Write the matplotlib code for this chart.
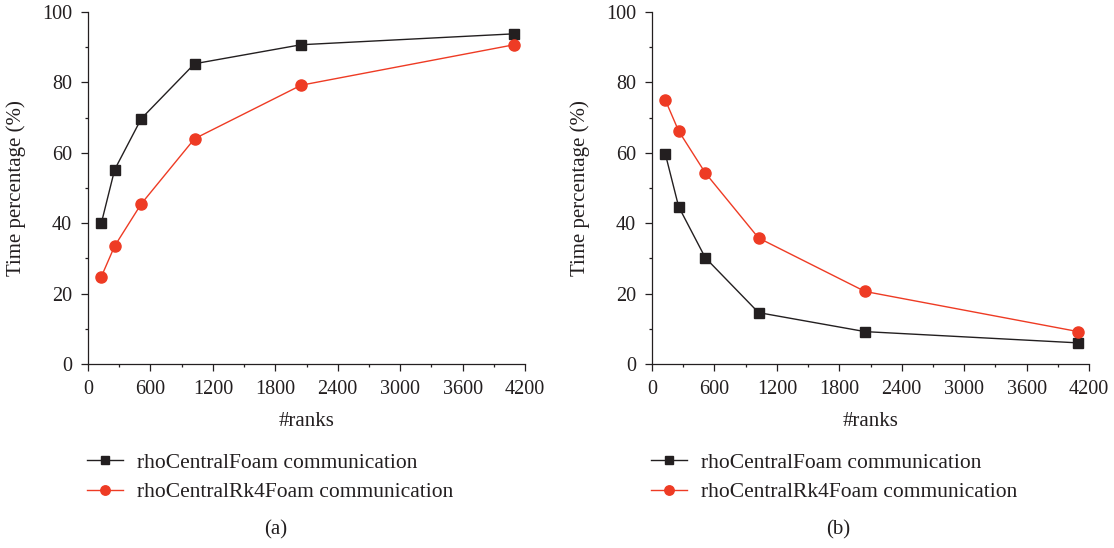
import matplotlib.pyplot as plt
from matplotlib.ticker import MultipleLocator

plt.rcParams['font.family'] = ['Liberation Serif', 'DejaVu Serif']

ranks = [128, 256, 512, 1024, 2048, 4096]

# panel (a)
a_foam = [40.0, 55.2, 69.7, 85.3, 90.7, 93.8]
a_rk4 = [24.8, 33.5, 45.5, 64.0, 79.2, 90.7]

# panel (b)
b_foam = [59.7, 44.7, 30.2, 14.6, 9.2, 6.0]
b_rk4 = [75.0, 66.2, 54.3, 35.8, 20.6, 9.2]

labels = ['rhoCentralFoam communication', 'rhoCentralRk4Foam communication']
black = '#231f20'
red = '#ee3b24'
txt = '#231f20'

W, H = 1114, 548
fig = plt.figure(figsize=(W / 100, H / 100), dpi=100)
axes = [fig.add_axes([88 / W, 1 - 364 / H, 437 / W, 352 / H]),
        fig.add_axes([652 / W, 1 - 364 / H, 437 / W, 352 / H])]

panels = [(a_foam, a_rk4, '(a)', 87, 276), (b_foam, b_rk4, '(b)', 651, 838)]

for ax, (foam, rk4, tag, leg_x, tag_x) in zip(axes, panels):
    ax.plot(ranks, foam, color=black, lw=1.0, marker='s', ms=7, label=labels[0])
    ax.plot(ranks, rk4, color=red, lw=1.0, marker='o', ms=8, label=labels[1])
    ax.set_xlim(0, 4200)
    ax.set_ylim(0, 100)
    ax.xaxis.set_major_locator(MultipleLocator(600))
    ax.xaxis.set_minor_locator(MultipleLocator(300))
    ax.yaxis.set_major_locator(MultipleLocator(20))
    ax.yaxis.set_minor_locator(MultipleLocator(10))
    ax.spines['top'].set_visible(False)
    ax.spines['right'].set_visible(False)
    for s in ['left', 'bottom']:
        ax.spines[s].set_color(txt)
        ax.spines[s].set_linewidth(0.9)
    ax.tick_params(which='major', direction='out', length=5, width=0.9,
                   colors=txt, labelsize=14.5, pad=6.5)
    ax.tick_params(which='minor', direction='out', length=2.5, width=0.9, colors=txt)
    ax.set_xlabel('#ranks', fontsize=15, color=txt)
    ax.set_ylabel('Time percentage (%)', fontsize=15, color=txt)
    ax.xaxis.set_label_coords(0.5, -0.137)
    ax.yaxis.set_label_coords(-0.142, 0.5)
    ax.legend(loc='center left', bbox_to_anchor=(leg_x / W, 1 - 477.5 / H),
              bbox_transform=fig.transFigure, frameon=False,
              fontsize=15.5, handlelength=1.67, handletextpad=0.65,
              labelspacing=0.42, borderpad=0, borderaxespad=0,
              markerscale=0.85, labelcolor=txt)
    fig.text(tag_x / W, 1 - 530 / H, tag, ha='center', va='center',
             fontsize=15, color=txt)

fig.savefig('out.png', dpi=100)
